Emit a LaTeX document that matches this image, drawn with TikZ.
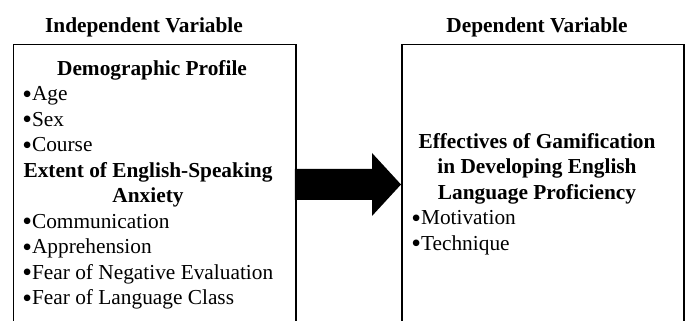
\documentclass[tikz,border=0pt]{standalone}
\usepackage{fontspec}
\usepackage{graphicx}
\setmainfont{Liberation Serif}
\usetikzlibrary{calc}

\newcommand{\bigdot}{\raisebox{-0.12em}{\scalebox{1.3}{\textbullet}}}

\begin{document}
\begin{tikzpicture}[x=0.5625pt, y=-0.5625pt,
                heading/.style={anchor=base, font=\fontsize{12}{14}\selectfont\bfseries, inner sep=0pt},
                item/.style={anchor=base west, font=\fontsize{12}{14}\selectfont, inner sep=0pt},
                frame/.style={draw, line width=1.1pt, inner sep=0pt, anchor=north west,
                        minimum width=158.8pt, minimum height=157.5pt}]
                \useasboundingbox (0,0) rectangle (686,320);
                \clip (0,0) rectangle (686,320);

                \node[heading] (indeptitle) at (144,32) {Independent Variable};
                \node[heading] (deptitle) at (537,32) {Dependent Variable};

                \node[frame] (indep) at (12.5,43.5) {};
                \node[frame] (dep) at (401,43.5) {};

                \fill ($(indep.east)+(-2,-15.5)$) -- ($(dep.west)+(-29,-15.5)$)
                        -- ($(dep.west)+(-29,-31.5)$) -- (dep.west)
                        -- ($(dep.west)+(-29,31.5)$) -- ($(dep.west)+(-29,15.5)$)
                        -- ($(indep.east)+(-2,15.5)$) -- cycle;

                \node[heading] (demo) at (152,75) {Demographic Profile};
                \node[item] (age) at (22,100.5) {\bigdot Age};
                \node[item] (sex) at (22,126) {\bigdot Sex};
                \node[item] (course) at (22,151.5) {\bigdot Course};

                \node[heading] (extent) at (148,177) {Extent of English-Speaking};
                \node[heading] (anxiety) at (148,202.5) {Anxiety};
                \node[item] (comm) at (22,228) {\bigdot Communication};
                \node[item] (appr) at (22,253.5) {\bigdot Apprehension};
                \node[item] (negeval) at (22,279) {\bigdot Fear of Negative Evaluation};
                \node[item] (langclass) at (22,304.5) {\bigdot Fear of Language Class};

                \node[heading] (effect) at (537,148) {Effectives of Gamification};
                \node[heading] (develop) at (537,173.5) {in Developing English};
                \node[heading] (profic) at (537,199) {Language Proficiency};
                \node[item] (motiv) at (411,224.5) {\bigdot Motivation};
                \node[item] (techn) at (411,250) {\bigdot Technique};
            \end{tikzpicture}
\end{document}
